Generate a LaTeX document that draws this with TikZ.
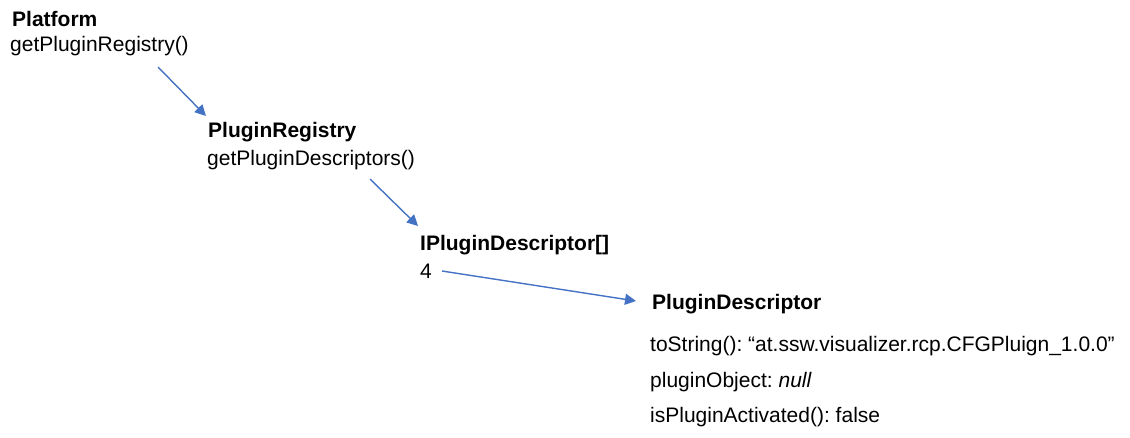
\documentclass[tikz,border=0pt]{standalone}
\usepackage{fontspec}
\setmainfont{Liberation Sans}
\usetikzlibrary{arrows.meta}
\definecolor{callblue}{HTML}{4472C4}
\frenchspacing
\tikzset{
  lbl/.style={anchor=base west, inner sep=0pt, font=\fontsize{21}{25}\selectfont},
  title/.style={lbl, font=\fontsize{21}{25}\selectfont\bfseries},
  call/.style={draw=callblue, line width=1.4pt, -{Triangle[length=11pt,width=11pt]}}
}
\begin{document}
\begin{tikzpicture}[x=1pt,y=-1pt]
\useasboundingbox (0,0) rectangle (1130,437);
% Platform
\node[title] (platform) at (12,26) {Platform};
\node[lbl] (getreg) at (10,51) {getPluginRegistry()};
% PluginRegistry
\node[title] (registry) at (208,137) {PluginRegistry};
\node[lbl] (getdesc) at (207,165) {getPluginDescriptors()};
% IPluginDescriptor[]
\node[title] (array) at (420,250) {IPluginDescriptor[]};
\node[lbl] (count) at (420,278) {4};
% PluginDescriptor
\node[title] (desc) at (652,309) {PluginDescriptor};
\node[lbl] (tostr) at (650,351) {toString(): “at.ssw.visualizer.rcp.CFGPluign\_1.0.0”};
\node[lbl] (pobj) at (650,387) {pluginObject: \textit{null}};
\node[lbl] (active) at (650,422) {isPluginActivated(): false};
% call arrows
\coordinate (a1s) at (158,67);  \coordinate (a1e) at (206,116);
\coordinate (a2s) at (370,179); \coordinate (a2e) at (418,226);
\coordinate (a3s) at (442,271); \coordinate (a3e) at (636,301);
\draw[call] (a1s) -- (a1e);
\draw[call] (a2s) -- (a2e);
\draw[call] (a3s) -- (a3e);
\end{tikzpicture}
\end{document}
